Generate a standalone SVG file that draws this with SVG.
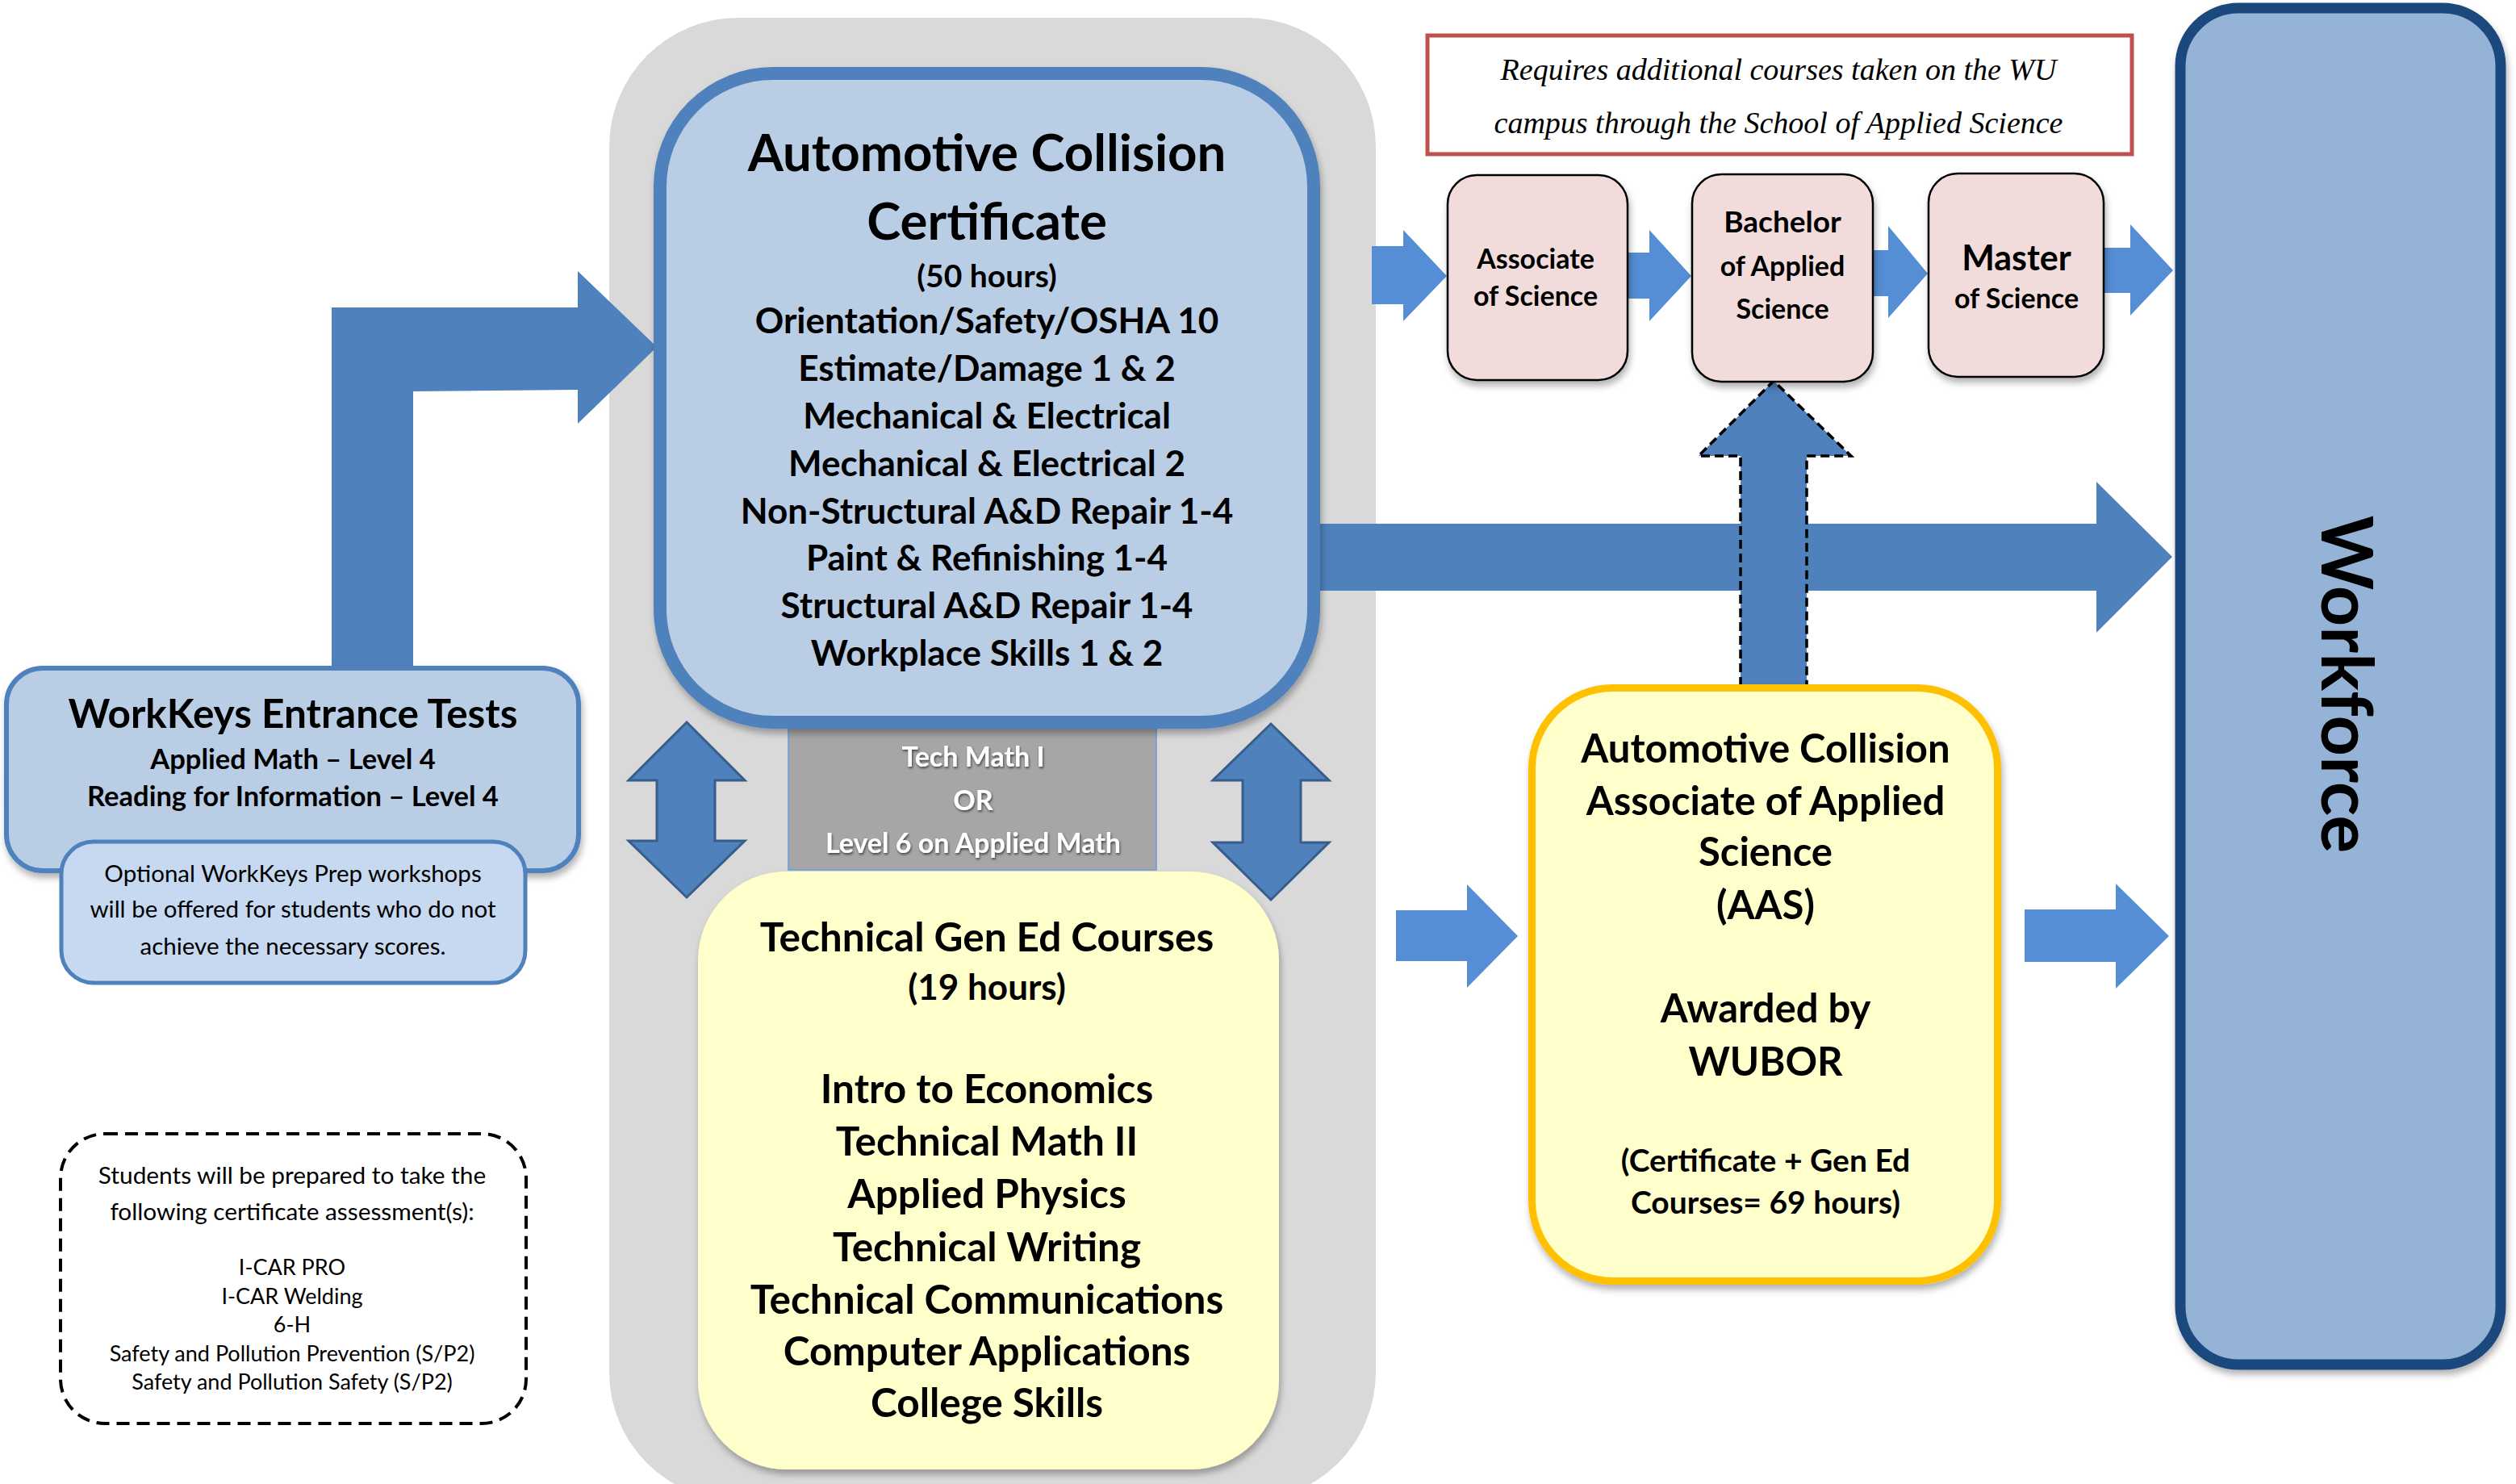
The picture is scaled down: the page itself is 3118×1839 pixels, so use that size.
<svg xmlns="http://www.w3.org/2000/svg" width="3118" height="1839" viewBox="0 0 3118 1839">
<defs>
<style>
text{font-family:Lato,"Open Sans","Liberation Sans",sans-serif;fill:#000;text-anchor:middle}
.b{font-weight:bold}
.r{font-weight:normal}
.note{font-family:"Liberation Serif","DejaVu Serif",serif;font-style:italic;font-size:38px}
.tm{fill:#fff;font-size:34px;font-weight:bold}
.dk{fill:#4f81bd}
.lt{fill:#558ed5}
.pink{fill:#f2dcdb;stroke:#000;stroke-width:2.5}
</style>
<filter id="sh" x="-10%" y="-10%" width="130%" height="130%"><feDropShadow dx="2" dy="6" stdDeviation="4" flood-color="#000" flood-opacity="0.3"/></filter>
<filter id="tsh" x="-10%" y="-20%" width="130%" height="150%"><feDropShadow dx="1" dy="2" stdDeviation="1.5" flood-color="#000" flood-opacity="0.6"/></filter>
</defs>
<rect width="3118" height="1839" fill="#fff"/>

<g id="container">
<rect x="755" y="22" width="950" height="1838" rx="160" fill="#d9d9d9"/>
</g>

<g id="connectors">
<polygon class="dk" points="411,830 411,381 716,381 716,336 814,430 716,525 716,483 512,485 512,830"/>
<polygon class="dk" points="1630,649 2598,649 2598,597 2692,690 2598,784 2598,732 1630,732"/>
<polygon class="lt" points="1700,305 1739,305 1739,285 1793,342 1739,398 1739,377 1700,377"/>
<polygon class="lt" points="2018,313 2044,313 2044,285 2096,342 2044,398 2044,370 2018,370"/>
<polygon class="lt" points="2322,310 2340,310 2340,280 2389,339 2340,394 2340,367 2322,367"/>
<polygon class="lt" points="2608,307 2640,307 2640,278 2693,335 2640,391 2640,363 2608,363"/>
<polygon class="lt" points="1730,1128 1818,1128 1818,1096 1881,1160 1818,1224 1818,1191 1730,1191"/>
<polygon class="lt" points="2509,1127 2622,1127 2622,1095 2688,1160 2622,1225 2622,1192 2509,1192"/>
<polygon class="dk" stroke="#000" stroke-width="3.5" stroke-dasharray="11 6" points="2157,850 2157,565 2105,565 2198,472 2294,565 2239,565 2239,850"/>
<polygon class="dk" stroke="#385d8a" stroke-width="3" points="851,895 923,967 886,967 886,1042 923,1042 851,1112 779,1042 814,1042 814,967 779,967"/>
<polygon class="dk" stroke="#385d8a" stroke-width="3" points="1575,897 1647,967 1612,967 1612,1044 1647,1044 1575,1115 1503,1044 1540,1044 1540,967 1503,967"/>
</g>

<g id="techmath">
<rect x="977" y="900" width="456" height="178" fill="#a6a6a6" stroke="#6e9ad6" stroke-width="1.5"/>
<g filter="url(#tsh)">
<text class="tm" x="1206" y="950">Tech Math I</text>
<text class="tm" x="1206" y="1004">OR</text>
<text class="tm" x="1206" y="1057">Level 6 on Applied Math</text>
</g>
</g>

<g id="certificate">
<rect x="818" y="91" width="810" height="804" rx="140" fill="#b9cde5" stroke="#4f81bd" stroke-width="16" filter="url(#sh)"/>
<text class="b" x="1223" y="212" font-size="63.5">Automotive Collision</text>
<text class="b" x="1223" y="297" font-size="63.5">Certificate</text>
<text class="b" x="1223" y="356" font-size="39">(50 hours)</text>
<text class="b" x="1223" y="413" font-size="44">Orientation/Safety/OSHA 10</text>
<text class="b" x="1223" y="472" font-size="44">Estimate/Damage 1 &amp; 2</text>
<text class="b" x="1223" y="531" font-size="44">Mechanical &amp; Electrical</text>
<text class="b" x="1223" y="590" font-size="44">Mechanical &amp; Electrical 2</text>
<text class="b" x="1223" y="649" font-size="44">Non-Structural A&amp;D Repair 1-4</text>
<text class="b" x="1223" y="707" font-size="44">Paint &amp; Refinishing 1-4</text>
<text class="b" x="1223" y="766" font-size="44">Structural A&amp;D Repair 1-4</text>
<text class="b" x="1223" y="825" font-size="44">Workplace Skills 1 &amp; 2</text>
</g>

<g id="gened">
<rect x="865" y="1080" width="720" height="741" rx="110" fill="#ffffcc" filter="url(#sh)"/>
<text class="b" x="1223" y="1179" font-size="49.5">Technical Gen Ed Courses</text>
<text class="b" x="1223" y="1239" font-size="44">(19 hours)</text>
<text class="b" x="1223" y="1367" font-size="49.5">Intro to Economics</text>
<text class="b" x="1223" y="1432" font-size="49.5">Technical Math II</text>
<text class="b" x="1223" y="1497" font-size="49.5">Applied Physics</text>
<text class="b" x="1223" y="1563" font-size="49.5">Technical Writing</text>
<text class="b" x="1223" y="1628" font-size="49.5">Technical Communications</text>
<text class="b" x="1223" y="1692" font-size="49.5">Computer Applications</text>
<text class="b" x="1223" y="1756" font-size="49.5">College Skills</text>
</g>

<g id="workkeys">
<rect x="8" y="828" width="709" height="251" rx="45" fill="#b9cde5" stroke="#4f81bd" stroke-width="6" filter="url(#sh)"/>
<text class="b" x="363" y="902" font-size="49.5">WorkKeys Entrance Tests</text>
<text class="b" x="363" y="953" font-size="34.5">Applied Math – Level 4</text>
<text class="b" x="363" y="999" font-size="34.5">Reading for Information – Level 4</text>
</g>

<g id="optional">
<rect x="76" y="1043" width="575" height="175" rx="40" fill="#c6d9f1" stroke="#4f81bd" stroke-width="5"/>
<text class="r" x="363" y="1093" font-size="29.5">Optional WorkKeys Prep workshops</text>
<text class="r" x="363" y="1137" font-size="29.5">will be offered for students who do not</text>
<text class="r" x="363" y="1183" font-size="29.5">achieve the necessary scores.</text>
</g>

<g id="assessments">
<rect x="75" y="1405" width="577" height="359" rx="55" fill="#fff" stroke="#000" stroke-width="4" stroke-dasharray="16 9"/>
<text class="r" x="362" y="1467" font-size="29.8">Students will be prepared to take the</text>
<text class="r" x="362" y="1512" font-size="29.8">following certificate assessment(s):</text>
<text class="r" x="362" y="1580" font-size="27">I-CAR PRO</text>
<text class="r" x="362" y="1616" font-size="27">I-CAR Welding</text>
<text class="r" x="362" y="1651" font-size="27">6-H</text>
<text class="r" x="362" y="1687" font-size="27">Safety and Pollution Prevention (S/P2)</text>
<text class="r" x="362" y="1722" font-size="27">Safety and Pollution Safety (S/P2)</text>
</g>

<g id="note">
<rect x="1769" y="44" width="873" height="147" fill="#fff" stroke="#c0504d" stroke-width="5"/>
<text class="note" x="2204" y="99">Requires additional courses taken on the WU</text>
<text class="note" x="2204" y="165">campus through the School of Applied Science</text>
</g>

<g id="associate">
<rect class="pink" x="1794" y="217" width="223" height="254" rx="36" filter="url(#sh)"/>
<text class="b" x="1903" y="333" font-size="34">Associate</text>
<text class="b" x="1903" y="379" font-size="34">of Science</text>
</g>

<g id="bachelor">
<rect class="pink" x="2097" y="216" width="224" height="257" rx="36" filter="url(#sh)"/>
<text class="b" x="2209" y="288" font-size="37">Bachelor</text>
<text class="b" x="2209" y="342" font-size="34">of Applied</text>
<text class="b" x="2209" y="395" font-size="34">Science</text>
</g>

<g id="master">
<rect class="pink" x="2390" y="215" width="217" height="252" rx="36" filter="url(#sh)"/>
<text class="b" x="2499" y="335" font-size="43">Master</text>
<text class="b" x="2499" y="382" font-size="34">of Science</text>
</g>

<g id="aas">
<rect x="1898.5" y="852.5" width="577" height="735" rx="100" fill="#ffffcc" stroke="#ffc000" stroke-width="9" filter="url(#sh)"/>
<text class="b" x="2188" y="945" font-size="49">Automotive Collision</text>
<text class="b" x="2188" y="1010" font-size="49">Associate of Applied</text>
<text class="b" x="2188" y="1073" font-size="49">Science</text>
<text class="b" x="2188" y="1139" font-size="49">(AAS)</text>
<text class="b" x="2188" y="1267" font-size="49">Awarded by</text>
<text class="b" x="2188" y="1333" font-size="49">WUBOR</text>
<text class="b" x="2188" y="1452" font-size="39">(Certificate + Gen Ed</text>
<text class="b" x="2188" y="1504" font-size="39">Courses= 69 hours)</text>
</g>

<g id="workforce">
<rect x="2702" y="10" width="397" height="1681" rx="72" fill="#95b3d7" stroke="#1f497d" stroke-width="13" filter="url(#sh)"/>
<text class="b" font-size="88" transform="translate(2877,848) rotate(90)">Workforce</text>
</g>
</svg>
